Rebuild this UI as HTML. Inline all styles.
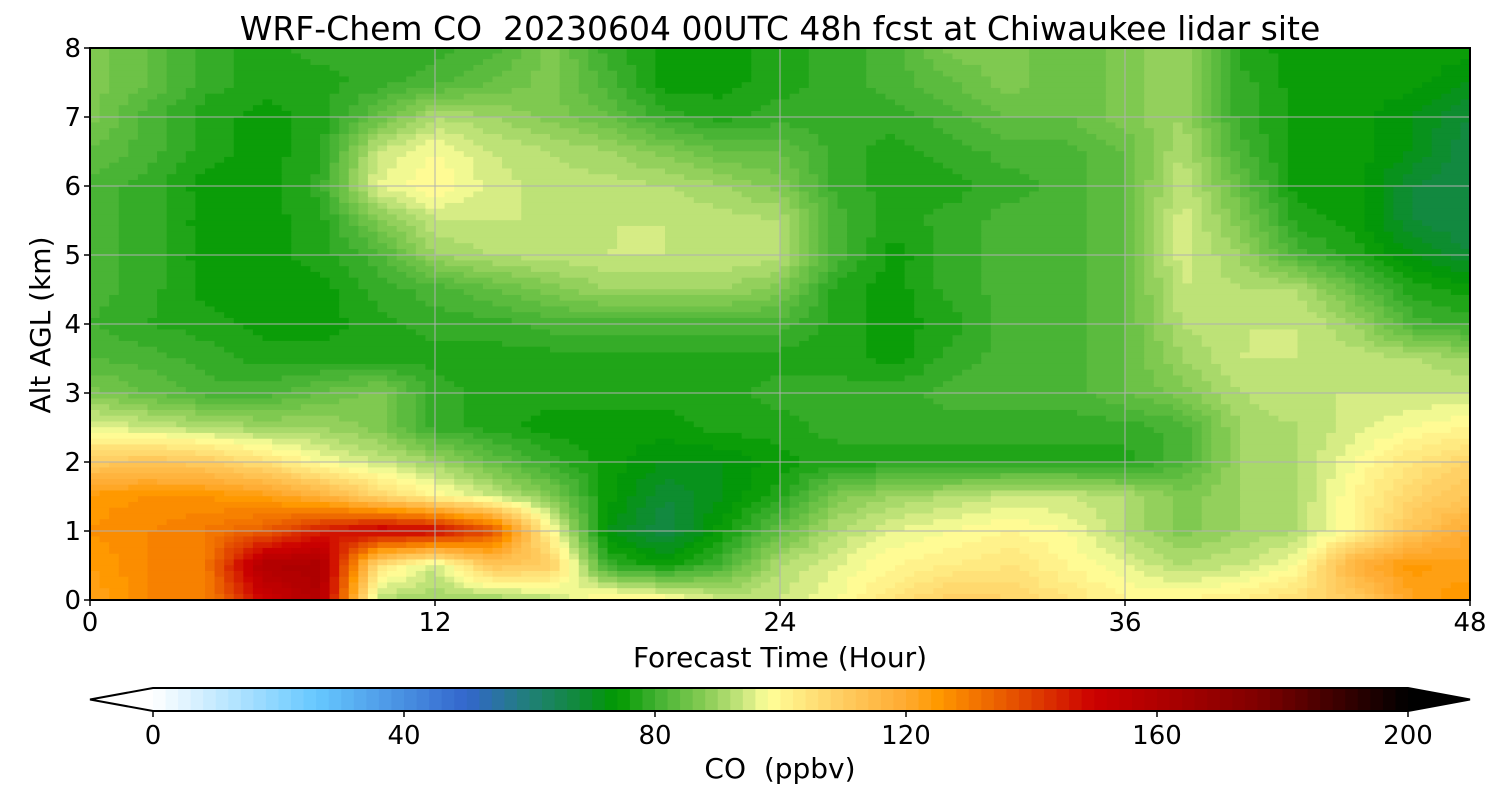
<!DOCTYPE html>
<html><head><meta charset="utf-8"><style>
body{margin:0;background:#fff;}
svg{display:block;font-family:"DejaVu Sans","Liberation Sans",sans-serif;}
text{white-space:pre;}
</style></head><body>
<svg id="chart" width="1500" height="800" viewBox="0 0 1500 800" xmlns="http://www.w3.org/2000/svg">
<rect width="1500" height="800" fill="#fff"/>
<text x="780" y="40" font-size="33" text-anchor="middle" xml:space="preserve">WRF-Chem CO  20230604 00UTC 48h fcst at Chiwaukee lidar site</text>
<g id="field"></g>
<g id="grid"></g>
<rect x="90" y="48" width="1380" height="552" fill="none" stroke="#000" stroke-width="2"/>
<g id="axes" font-size="26"></g>
<text x="780" y="667" font-size="28" text-anchor="middle">Forecast Time (Hour)</text>
<text transform="translate(50,325) rotate(-90)" font-size="28" text-anchor="middle">Alt AGL (km)</text>
<g id="cbar"></g>
<text x="780" y="778" font-size="28" text-anchor="middle" xml:space="preserve">CO  (ppbv)</text>
</svg>
<script>
const hours = [0,2,4,6,8,10,12,14,16,18,20,22,24,26,28,30,32,34,36,38,40,42,44,46,48];
const altitudes = [8,7.5,7,6.5,6,5.5,5,4.5,4,3.5,3,2.5,2,1.5,1,0.5,0];
const coValues = [
[87,84,79,77,79,79,79,81,87,79,75,75,77,79,81,87,87,84,87,90,77,75,75,75,75],
[87,84,79,77,77,79,81,84,87,81,75,75,77,79,81,84,87,84,87,90,79,75,75,75,72],
[87,81,77,75,77,84,92,90,87,84,79,77,79,79,79,81,84,84,87,90,79,75,75,72,68],
[84,81,77,75,77,94,98,94,92,90,87,84,84,79,77,79,81,81,84,92,81,75,75,72,66],
[81,79,75,75,79,96,100,95,93,93,92,90,87,79,77,77,79,81,84,94,84,75,75,68,66],
[81,79,75,75,77,87,94,94,94,94,94,93,92,81,77,79,81,81,84,95,87,77,75,68,66],
[81,79,75,75,77,81,90,92,93,94,94,94,93,81,75,79,81,81,84,95,90,81,77,72,68],
[81,79,75,75,75,79,81,84,87,90,90,90,87,77,75,79,81,81,84,94,92,92,84,77,75],
[80,78,77,75,75,77,79,79,81,81,81,81,81,77,75,77,81,81,84,92,94,94,90,81,79],
[82,81,79,77,77,77,77,77,77,77,77,77,77,77,75,79,81,81,84,90,94,94,93,92,90],
[87,84,81,81,84,87,79,77,77,77,77,77,79,79,79,81,81,81,84,87,92,94,94,94,94],
[96,94,92,90,90,87,79,77,75,75,75,77,77,79,79,79,79,79,79,81,90,92,95,98,100],
[110,112,110,105,98,94,90,84,79,75,72,72,75,77,77,77,77,77,77,81,90,92,98,104,108],
[125,126,126,124,118,108,100,94,87,75,68,72,77,87,90,92,94,94,92,87,90,92,100,108,112],
[126,128,130,135,145,152,150,138,100,72,66,75,84,92,96,98,100,98,92,87,90,92,100,112,120],
[124,128,130,160,162,105,94,112,110,79,75,81,92,96,100,102,104,100,96,92,94,98,118,125,122],
[122,128,128,150,160,92,90,90,92,102,100,94,94,98,104,110,108,104,100,100,102,106,110,122,126]
];
const xTicks = [0,12,24,36,48];
const yTicks = [0,1,2,3,4,5,6,7,8];
const cbTicks = [0,40,80,120,160,200];

const NS="http://www.w3.org/2000/svg";
const X0=90,X1=1470,Y0=600,Y1=48;
const xs=h=>X0+(h-0)/(48-0)*(X1-X0);
const ys=a=>Y0-(a-0)/(8-0)*(Y0-Y1);
const stops=[[0,"#ffffff"],[26,"#66c8ff"],[50,"#3366cc"],[60,"#208078"],[68,"#108a38"],[74,"#009900"],[80,"#40b030"],[88,"#88cc55"],[94,"#c8e67e"],[98,"#ffff99"],[110,"#ffcc60"],[120,"#ffaa30"],[125,"#ff9900"],[140,"#e04000"],[150,"#cc0000"],[162,"#aa0000"],[176,"#800000"],[200,"#000000"]];
function hex(c){return [1,3,5].map(i=>parseInt(c.substr(i,2),16));}
function cmap(v){
  v=Math.max(0,Math.min(200,v));
  for(let i=1;i<stops.length;i++){if(v<=stops[i][0]){const a=stops[i-1],b=stops[i];const t=(v-a[0])/(b[0]-a[0]);const ca=hex(a[1]),cb=hex(b[1]);return "rgb("+ca.map((c,k)=>Math.round(c+(cb[k]-c)*t)).join(",")+")";}}
  return "#000";
}
const levelColor=v=>cmap(Math.floor(Math.max(0,Math.min(199.9,v))/2)*2+1);
function mk(tag,attrs,parent){const e=document.createElementNS(NS,tag);for(const k in attrs)e.setAttribute(k,attrs[k]);parent.appendChild(e);return e;}

const field=document.getElementById('field');
const SUB=6;
for(let r=0;r<altitudes.length-1;r++){
  for(let sr=0;sr<SUB;sr++){
    const ty=(sr+0.5)/SUB;
    const aTop=altitudes[r]+(altitudes[r+1]-altitudes[r])*sr/SUB;
    const aBot=altitudes[r]+(altitudes[r+1]-altitudes[r])*(sr+1)/SUB;
    let runStart=null,runCol=null;
    const flush=(endH)=>{if(runStart===null)return;
      const el=mk('rect',{x:xs(runStart),y:ys(aTop)-0.3,width:xs(endH)-xs(runStart)+0.6,height:ys(aBot)-ys(aTop)+0.6,fill:runCol},field);
      
      };
    for(let c=0;c<hours.length-1;c++){
      for(let sc=0;sc<SUB;sc++){
        const tx=(sc+0.5)/SUB;
        const v00=coValues[r][c],v01=coValues[r][c+1],v10=coValues[r+1][c],v11=coValues[r+1][c+1];
        const v=(v00*(1-tx)+v01*tx)*(1-ty)+(v10*(1-tx)+v11*tx)*ty;
        const col=levelColor(v);
        const h0=hours[c]+(hours[c+1]-hours[c])*sc/SUB;
        if(col!==runCol){flush(h0);runStart=h0;runCol=col;}
      }
    }
    flush(hours[hours.length-1]);
  }
}
const grid=document.getElementById('grid');
xTicks.forEach(t=>{const l=mk('line',{x1:xs(t),x2:xs(t),y1:Y1,y2:Y0,stroke:"#b0b0b0","stroke-width":1},grid);});
yTicks.forEach(t=>{const l=mk('line',{x1:X0,x2:X1,y1:ys(t),y2:ys(t),stroke:"#b0b0b0","stroke-width":1},grid);});
const axes=document.getElementById('axes');
xTicks.forEach(t=>{
  mk('line',{x1:xs(t),x2:xs(t),y1:Y0,y2:Y0+6,stroke:"#000","stroke-width":1.5},axes);
  const tx=mk('text',{x:xs(t),y:Y0+31,"text-anchor":"middle"},axes);tx.textContent=t;
  
  
});
yTicks.forEach(t=>{
  mk('line',{x1:X0-6,x2:X0,y1:ys(t),y2:ys(t),stroke:"#000","stroke-width":1.5},axes);
  const tx=mk('text',{x:X0-9,y:ys(t)+9,"text-anchor":"end"},axes);tx.textContent=t;
  
  
});
const cb=document.getElementById('cbar');
const CX0=153,CX1=1408,CY0=688,CY1=711;
const cx=v=>CX0+v/200*(CX1-CX0);
for(let v=0;v<200;v+=2){
  const r=mk('rect',{x:cx(v),y:CY0,width:cx(v+2)-cx(v)+0.5,height:CY1-CY0,fill:cmap(v+1)},cb);
  
  
}
mk('polygon',{points:`${CX0},${CY0} 90,${(CY0+CY1)/2} ${CX0},${CY1}`,fill:"#fff"},cb);
mk('polygon',{points:`${CX1},${CY0} 1470,${(CY0+CY1)/2} ${CX1},${CY1}`,fill:"#000"},cb);
mk('polygon',{points:`${CX0},${CY0} ${CX1},${CY0} 1470,${(CY0+CY1)/2} ${CX1},${CY1} ${CX0},${CY1} 90,${(CY0+CY1)/2}`,fill:"none",stroke:"#000","stroke-width":2},cb);
cbTicks.forEach(t=>{
  mk('line',{x1:cx(t),x2:cx(t),y1:CY1,y2:CY1+6,stroke:"#000","stroke-width":1.5},cb);
  const tx=mk('text',{x:cx(t),y:CY1+33,"text-anchor":"middle","font-size":26},cb);tx.textContent=t;
  
  
});
</script>
</body></html>
